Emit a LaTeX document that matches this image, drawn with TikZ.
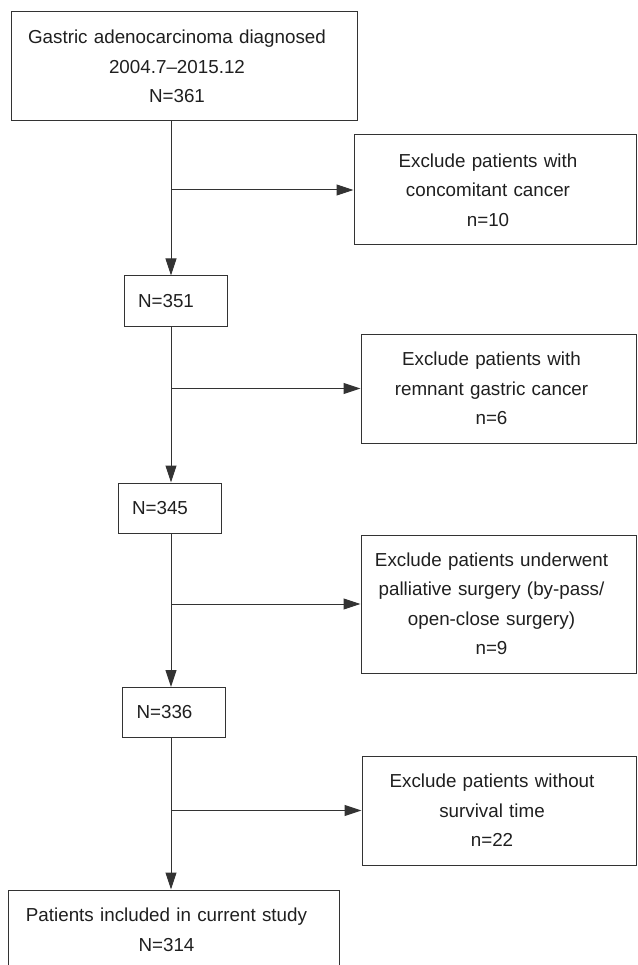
\documentclass[tikz,border=0pt]{standalone}
\usepackage{fontspec}
\setmainfont{Liberation Sans}
\usepackage{xcolor}
\usepackage{tikz}
\usetikzlibrary{arrows.meta}
\colorlet{linegray}{black!80}
\colorlet{textgray}{black!88}
\newcommand\boxfont{\fontsize{18.8}{29.5}\selectfont}
\tikzstyle{stage}=[draw=linegray,line width=1pt,text=textgray,font=\boxfont,inner sep=0pt,
	minimum width=#1,text width=#1,
	execute at begin node={\centering\rightskip=14pt plus 1fil}]
\tikzstyle{count}=[draw=linegray,line width=1pt,text=textgray,font=\boxfont,align=left,
	text width=75pt,inner xsep=14pt,inner ysep=0pt,minimum height=50pt]
\tikzstyle{flowhead}=[>/.tip={Triangle[length=17pt,width=11pt]}]
\tikzstyle{flow}=[line width=1pt,draw=linegray,flowhead,->]

\begin{document}
\begin{tikzpicture}[x=1pt,y=-1pt]
	\useasboundingbox (0,0) rectangle (637,965);
	\node[stage=346pt,minimum height=109pt] (diag) at (184,66.5)
		{Gastric adenocarcinoma diagnosed\\2004.7--2015.12\\N=361};
	\node[stage=282pt,minimum height=110pt] (ex1) at (495,190)
		{Exclude patients with\\concomitant cancer\\n=10};
	\node[count] (n351) at (175.5,301) {N=351};
	\node[stage=275pt,minimum height=109pt] (ex2) at (498.5,388.5)
		{Exclude patients with\\remnant gastric cancer\\n=6};
	\node[count] (n345) at (169.5,508) {N=345};
	\node[stage=275pt,minimum height=138pt] (ex3) at (498.5,604)
		{Exclude patients underwent\\palliative surgery (by-pass/\\open-close surgery)\\n=9};
	\node[count] (n336) at (174,712.5) {N=336};
	\node[stage=274pt,minimum height=109pt] (ex4) at (499,810.5)
		{Exclude patients without\\survival time\\n=22};
	\node[stage=331pt,minimum height=80pt] (incl) at (173.5,930)
		{Patients included in current study\\N=314};
	\coordinate (spine) at (171,0);
	\draw[flow] (diag.south -| spine) -- (n351.north -| spine);
	\draw[flow] (spine |- ex1.west)   -- (ex1.west);
	\draw[flow] (n351.south -| spine) -- (n345.north -| spine);
	\draw[flow] (spine |- ex2.west)   -- (ex2.west);
	\draw[flow] (n345.south -| spine) -- (n336.north -| spine);
	\draw[flow] (spine |- ex3.west)   -- (ex3.west);
	\draw[flow] (n336.south -| spine) -- (incl.north -| spine);
	\draw[flow] (spine |- ex4.west)   -- (ex4.west);
\end{tikzpicture}
\end{document}
